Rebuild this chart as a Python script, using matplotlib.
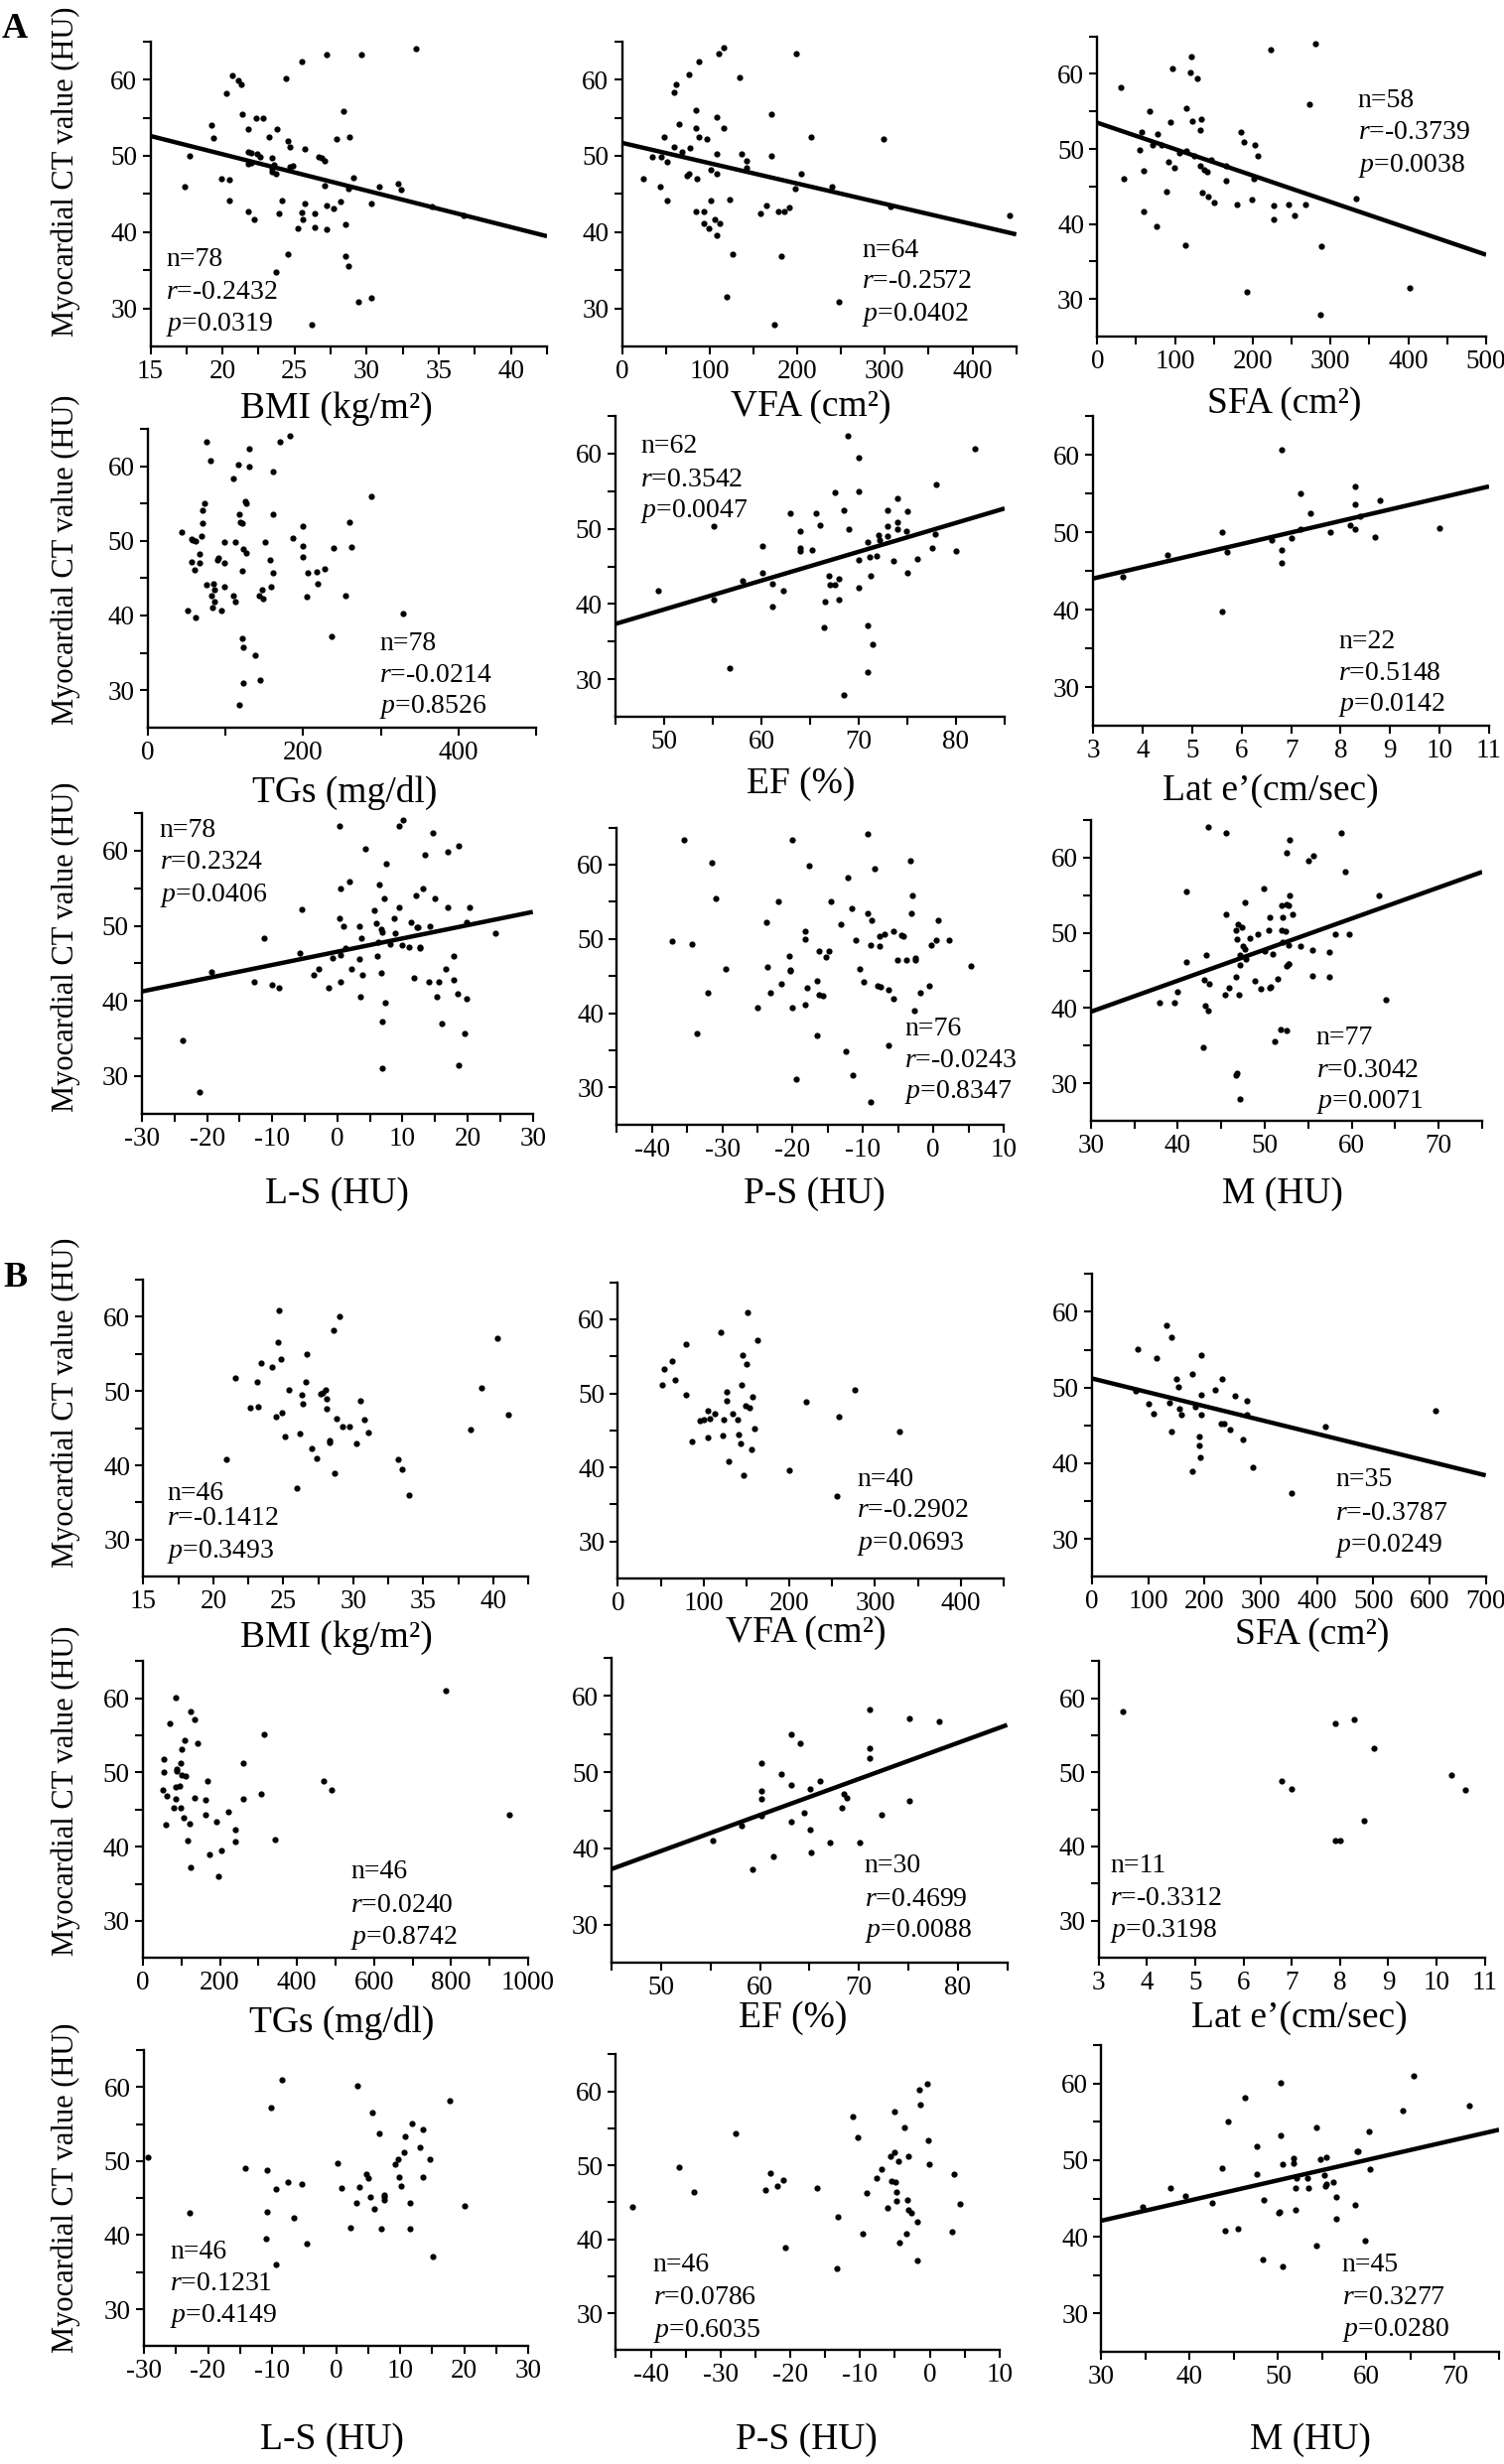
import matplotlib
matplotlib.use("Agg")
import matplotlib.pyplot as plt
import numpy as np

plt.rcParams['font.family'] = ['Liberation Serif', 'DejaVu Serif']
plt.rcParams['mathtext.fontset'] = 'custom'
plt.rcParams['mathtext.rm'] = 'Liberation Serif'
plt.rcParams['mathtext.it'] = 'Liberation Serif:italic'

# ---------------- data (x, Myocardial CT value) ----------------
a_bmi = [(17.4,46.0),(17.7,50.0),(19.2,54.0),(19.4,52.3),(19.9,47.0),(20.3,58.2),(20.5,46.9),(20.5,44.1),(20.7,60.6),(21.1,59.9),(21.3,59.3),(21.4,55.4),(21.8,53.5),(21.8,50.5),(21.8,48.9),(21.8,42.7),(22.0,50.4),(22.2,41.6),(22.3,54.9),(22.4,50.3),(22.6,49.8),(22.8,54.9),(23.2,52.4),(23.4,49.7),(23.4,48.3),(23.6,48.8),(23.7,34.7),(23.8,53.5),(23.7,47.6),(23.9,42.4),(24.1,44.1),(24.4,60.2),(24.5,52.0),(24.5,37.1),(24.7,51.1),(24.7,48.6),(24.9,48.7),(25.2,40.5),(25.5,62.4),(25.5,42.6),(25.6,41.6),(25.7,50.9),(25.7,43.7),(26.4,42.5),(26.4,40.6),(26.7,49.9),(26.9,49.7),(27.1,46.1),(27.1,49.3),(27.2,63.3),(27.2,43.5),(27.2,40.3),(27.7,43.1),(27.9,52.2),(28.2,44.0),(28.4,55.9),(28.5,36.9),(28.5,41.0),(28.7,35.5),(28.7,45.7),(28.8,52.4),(29.1,47.1),(29.6,63.3),(29.4,30.9),(30.3,43.8),(30.3,31.4),(30.9,45.9),(32.2,46.3),(32.4,45.6),(33.4,64.1),(34.5,43.4),(36.7,42.2),(26.2,27.9),(23.4,47.9),(22.0,49.1)]
a_vfa = [(24,47.0),(35,49.8),(44,46.0),(48,52.4),(45,49.8),(52,49.2),(52,44.1),(60,58.3),(62,59.4),(60,51.1),(65,54.1),(68,50.5),(77,60.7),(78,51.0),(74,47.4),(76,47.7),(84,56.0),(84,53.6),(88,62.4),(86,47.0),(84,42.7),(88,52.4),(97,52.2),(94,42.7),(99,40.5),(94,41.2),(101,48.2),(101,44.1),(106,41.6),(108,55.1),(108,50.3),(108,47.6),(108,39.6),(110,63.4),(112,41.1),(116,53.6),(116,64.2),(119,31.5),(123,44.3),(126,37.1),(134,60.3),(137,50.3),(142,49.4),(142,48.4),(158,42.4),(165,43.5),(171,55.4),(170,50.0),(174,27.8),(178,42.7),(182,36.9),(185,42.7),(191,43.2),(198,45.7),(199,63.4),(204,47.7),(216,52.5),(240,45.9),(247,30.9),(299,52.2),(307,43.4),(442,42.2)]
a_sfa = [(30,58.2),(34,46.0),(55,49.9),(57,52.3),(60,47.1),(60,41.7),(67,55.0),(71,50.5),(77,52.0),(76,39.7),(83,50.5),(89,44.3),(94,53.6),(92,48.3),(96,60.7),(99,47.5),(105,49.5),(113,37.2),(115,49.8),(115,55.4),(120,60.2),(121,62.3),(122,53.7),(125,49.1),(128,59.4),(132,52.5),(133,47.8),(134,54.0),(135,44.2),(137,47.2),(141,47.0),(143,43.7),(146,48.5),(150,42.8),(165,45.8),(165,47.7),(179,42.6),(185,52.2),(188,50.9),(192,31.0),(199,43.2),(201,46.0),(203,50.5),(206,49.1),(223,63.3),(227,40.6),(227,42.5),(246,42.6),(254,41.1),(268,42.6),(273,55.9),(280,64.1),(288,37.0),(287,27.9),(333,43.4),(402,31.5)]
a_tg = [(43,51.1),(51,40.7),(56,50.3),(57,50.1),(56,47.2),(60,46.1),(61,39.7),(61,50.0),(66,48.3),(67,47.1),(69,50.7),(70,54.1),(70,52.3),(73,55.0),(75,63.3),(76,44.1),(80,60.7),(82,42.6),(83,41.1),(84,44.2),(86,43.4),(86,41.8),(90,47.5),(91,47.7),(94,40.6),(99,47.0),(99,49.9),(99,43.9),(110,42.7),(110,58.3),(112,49.8),(113,41.8),(116,60.2),(118,53.5),(119,52.5),(121,36.9),(121,46.0),(122,52.3),(123,35.7),(123,48.9),(118,28.0),(123,31.0),(125,55.3),(126,55.0),(127,48.4),(131,62.3),(131,60.0),(138,34.7),(143,42.7),(145,31.4),(147,43.5),(148,42.2),(151,49.9),(157,47.4),(159,43.8),(161,53.5),(161,45.7),(161,59.3),(170,63.3),(183,64.1),(187,50.4),(199,52.0),(199,49.3),(199,47.8),(204,42.5),(206,45.7),(217,45.9),(219,44.2),(228,46.3),(237,37.2),(239,49.0),(255,42.6),(259,52.5),(262,49.2),(288,55.9),(329,40.3)]
a_ef = [(49.4,41.7),(55.1,50.4),(55.1,40.6),(56.7,31.5),(58.1,43.1),(60.1,47.7),(60.1,44.2),(61.1,42.7),(61.1,39.6),(62.2,41.7),(63.0,52.0),(64.0,49.7),(64.0,47.5),(64.0,47.1),(65.2,47.2),(65.6,52.1),(66.0,50.5),(66.4,36.9),(66.5,40.3),(66.9,43.7),(67.0,42.6),(67.5,42.6),(67.5,54.9),(68.0,43.4),(68.0,40.6),(68.5,52.4),(68.5,27.9),(69.0,50.0),(70.0,45.9),(70.0,42.2),(70.0,55.0),(70.0,59.4),(68.9,62.3),(70.9,48.2),(70.9,37.1),(70.9,31.0),(71.1,46.2),(71.2,43.7),(71.4,34.7),(71.8,46.4),(72.0,49.2),(72.1,48.5),(73.0,50.4),(73.0,49.0),(73.0,52.4),(73.6,45.7),(74.0,50.9),(74.0,49.9),(74.0,54.0),(74.9,49.7),(75.0,52.3),(75.0,44.2),(76.0,46.0),(77.5,47.4),(77.9,49.3),(78.0,55.9),(80.0,47.1),(81.9,60.7)]
a_late = [(3.6,44.2),(4.5,47.0),(5.6,50.0),(5.6,39.7),(5.7,47.5),(6.6,49.0),(6.8,47.7),(6.8,46.0),(6.8,60.7),(7.0,49.2),(7.2,55.0),(7.2,50.4),(7.4,52.5),(7.8,50.0),(8.2,50.9),(8.3,55.9),(8.3,53.6),(8.3,50.4),(8.4,52.1),(8.7,49.4),(8.8,54.1),(10.0,50.5)]
a_ls = [(-23.7,34.8),(-21.2,27.9),(-19.4,43.9),(-12.8,42.5),(-11.3,48.4),(-10.0,42.2),(-8.9,41.7),(-5.7,46.4),(-5.4,52.2),(-3.7,43.4),(-2.8,44.3),(-1.4,41.7),(-0.8,45.7),(0.3,63.3),(0.4,51.0),(0.5,55.0),(0.5,46.1),(0.5,42.6),(0.9,49.9),(1.2,47.0),(2.2,44.2),(1.9,55.9),(3.3,45.6),(3.3,49.9),(3.6,40.6),(3.7,48.3),(3.8,43.5),(4.3,60.2),(5.7,52.1),(5.9,50.3),(6.1,46.0),(6.2,47.8),(6.4,55.5),(6.8,49.5),(6.9,49.2),(6.8,43.7),(6.9,37.2),(6.9,31.0),(7.2,53.6),(7.3,39.7),(7.5,58.2),(8.1,47.6),(8.7,51.0),(8.9,49.0),(9.4,52.5),(9.5,63.3),(10.1,64.1),(10.0,47.4),(11.0,47.2),(11.3,50.4),(11.8,43.1),(12.1,54.0),(12.2,49.8),(12.4,49.8),(12.7,47.2),(12.7,47.0),(13.1,55.0),(13.4,59.4),(14.0,42.6),(14.2,49.9),(14.6,62.3),(14.9,53.6),(15.3,40.6),(15.5,42.6),(16.1,37.0),(16.6,44.2),(16.9,52.5),(17.0,59.9),(17.9,46.0),(17.9,42.8),(18.5,41.0),(18.6,31.5),(18.6,60.6),(19.6,35.6),(19.8,50.5),(19.9,40.3),(20.3,52.4),(24.2,49.0)]
a_ps = [(-37.2,49.7),(-35.4,63.3),(-34.3,49.3),(-33.6,37.2),(-32.0,42.7),(-31.5,60.2),(-30.9,55.5),(-29.5,46.0),(-25.0,40.7),(-23.7,52.2),(-23.6,46.2),(-23.2,42.7),(-22.0,55.0),(-21.6,43.9),(-20.5,47.7),(-20.4,45.7),(-20.4,45.8),(-20.1,40.7),(-20.0,63.3),(-19.5,31.1),(-18.3,51.1),(-18.3,50.0),(-18.2,41.1),(-18.0,43.4),(-17.7,59.8),(-16.6,37.0),(-16.5,44.3),(-16.3,48.3),(-16.2,42.5),(-15.7,42.3),(-15.2,47.5),(-14.8,48.4),(-14.5,55.0),(-13.1,52.0),(-12.5,34.8),(-12.1,58.2),(-11.6,54.1),(-11.4,31.6),(-11.0,49.9),(-10.5,46.0),(-9.9,44.2),(-9.4,53.5),(-9.4,64.1),(-8.9,49.2),(-8.8,52.5),(-8.4,59.4),(-7.9,43.7),(-7.7,49.0),(-7.6,50.4),(-7.5,43.5),(-7.0,50.7),(-6.4,43.2),(-6.4,35.7),(-5.7,51.0),(-5.7,41.9),(-5.1,47.1),(-4.6,50.5),(-4.2,50.4),(-3.9,47.2),(-3.1,53.5),(-3.2,60.6),(-3.0,55.9),(-2.7,40.3),(-2.5,47.4),(-2.5,47.1),(-1.9,42.7),(-0.6,43.7),(-0.3,49.1),(0.4,49.8),(0.7,52.5),(2.2,49.8),(5.3,46.3),(-8.9,28.0)]
a_m = [(37.9,40.7),(39.6,40.7),(40.0,42.2),(41.0,46.1),(41.0,55.5),(42.9,34.8),(43.0,43.8),(43.2,40.3),(43.3,47.0),(43.5,39.7),(43.5,64.1),(43.6,43.2),(45.4,41.8),(45.5,63.3),(45.6,52.5),(45.9,42.7),(46.7,50.3),(46.7,44.2),(46.7,31.1),(46.8,49.1),(46.9,51.1),(47.0,41.8),(47.1,47.1),(47.2,45.7),(47.2,27.9),(47.4,50.7),(47.5,48.2),(47.7,54.1),(47.7,47.8),(47.8,46.5),(48.3,49.3),(48.9,43.6),(49.2,49.8),(49.6,42.6),(49.9,55.9),(50.0,47.6),(50.5,50.4),(50.6,52.1),(50.6,42.7),(50.7,42.8),(50.9,47.2),(51.2,35.6),(51.5,43.9),(51.8,37.2),(51.9,53.6),(52.0,50.3),(52.1,52.1),(52.1,48.8),(52.4,50.2),(52.5,60.7),(52.5,37.0),(52.5,45.6),(52.5,53.8),(52.7,48.4),(52.8,45.8),(52.9,62.3),(52.9,55.0),(52.8,53.6),(53.2,52.5),(54.1,48.3),(55.0,59.6),(55.5,47.7),(55.6,60.2),(55.5,44.3),(57.4,47.4),(57.4,44.2),(58.1,49.8),(58.8,63.3),(59.2,58.2),(59.7,49.8),(63.1,55.0),(63.9,41.1),(46.8,31.4),(52.8,45.9)]

b_bmi = [(20.9,40.8),(21.6,51.8),(22.6,47.7),(23.1,51.2),(23.2,47.9),(23.4,53.8),(24.2,53.2),(24.5,46.5),(24.6,56.6),(24.7,60.9),(24.8,54.3),(24.9,47.1),(25.1,43.9),(25.4,50.1),(26.0,37.0),(26.2,44.3),(26.3,49.5),(26.4,48.3),(26.6,51.2),(26.7,55.0),(27.0,42.3),(27.4,40.9),(27.7,49.6),(28.0,50.2),(28.1,49.0),(28.1,47.6),(28.3,43.4),(28.3,43.1),(28.6,58.2),(28.7,38.9),(28.8,46.3),(29.0,60.1),(29.2,45.2),(29.7,45.2),(30.2,43.0),(30.5,48.7),(30.8,46.2),(31.1,44.4),(33.2,40.8),(33.5,39.5),(34.0,36.0),(38.4,44.8),(39.2,50.4),(40.3,57.1),(41.1,46.8),(27.8,49.8)]
b_vfa = [(52,51.2),(54,53.3),(63,54.3),(67,51.8),(80,56.6),(79,49.8),(86,43.5),(96,46.3),(100,46.4),(105,47.7),(105,44.0),(107,46.6),(113,47.2),(120,58.2),(122,44.3),(123,46.5),(127,49.0),(127,50.2),(129,40.8),(134,47.2),(140,46.5),(141,44.4),(143,43.2),(144,51.2),(146,55.2),(147,38.9),(149,48.3),(150,53.9),(151,61.0),(154,48.0),(156,42.4),(157,49.5),(159,45.3),(163,57.2),(200,39.6),(219,48.9),(255,36.1),(258,46.9),(276,50.5),(328,44.8)]
b_sfa = [(78,49.5),(81,55.1),(101,47.8),(110,46.6),(115,53.9),(138,48.0),(141,44.2),(141,56.7),(133,58.2),(150,51.2),(154,50.1),(156,47.2),(159,46.4),(178,51.8),(183,47.5),(190,43.5),(191,42.4),(192,40.8),(194,49.0),(195,46.4),(195,54.3),(178,38.9),(219,49.7),(229,45.3),(232,51.2),(234,45.3),(246,44.5),(255,48.9),(269,43.1),(275,48.3),(275,46.4),(286,39.5),(354,36.0),(414,44.8),(611,46.9)]
b_tg = [(51,47.7),(55,50.1),(55,51.8),(59,43.0),(63,46.8),(70,56.6),(79,45.2),(84,60.1),(84,46.4),(84,48.0),(87,50.2),(89,50.4),(96,48.2),(97,51.2),(97,45.2),(101,53.2),(102,49.7),(106,43.9),(108,54.3),(112,49.5),(116,40.8),(122,43.1),(124,58.2),(124,37.2),(133,57.1),(134,46.6),(142,53.9),(162,44.3),(162,46.3),(167,48.9),(173,38.9),(192,43.4),(205,39.5),(196,36.0),(221,44.7),(239,42.3),(240,40.7),(260,51.2),(261,46.4),(307,47.1),(315,55.1),(344,41.0),(468,48.8),(489,47.6),(787,61.0),(951,44.3)]
b_ef = [(55.2,41.0),(58.1,43.0),(59.2,37.2),(60.1,51.2),(60.1,47.6),(60.1,46.5),(60.1,44.3),(61.3,38.9),(62.1,49.7),(63.2,55.0),(63.2,48.3),(63.2,43.5),(64.1,53.8),(64.5,44.7),(65.1,42.4),(65.1,47.8),(65.2,39.5),(66.1,48.9),(67.1,40.8),(68.3,45.3),(68.5,47.2),(68.8,46.6),(70.1,40.8),(71.1,58.2),(71.1,53.2),(71.1,51.8),(72.3,44.4),(75.1,57.1),(75.1,46.3),(78.1,56.6)]
b_late = [(3.5,58.2),(6.8,48.9),(7.0,47.7),(7.9,56.6),(7.9,40.8),(8.0,40.8),(8.3,57.1),(8.5,43.5),(8.7,53.2),(10.3,49.7),(10.6,47.6)]
b_ls = [(-29.4,50.5),(-22.9,43.0),(-14.2,49.0),(-11.0,39.5),(-10.8,48.8),(-10.8,43.1),(-10.2,57.2),(-9.4,36.0),(-9.4,46.2),(-8.4,61.0),(-7.5,47.1),(-6.6,42.3),(-5.3,46.9),(-4.5,38.9),(0.3,49.7),(0.8,46.4),(2.3,41.0),(3.2,44.3),(3.4,60.2),(3.7,46.5),(4.7,48.3),(5.0,47.7),(5.3,45.2),(5.6,56.6),(6.0,43.5),(6.8,53.8),(7.0,40.8),(7.5,45.2),(7.5,44.8),(9.3,49.6),(9.7,50.2),(9.8,47.9),(10.2,46.6),(10.6,51.2),(10.7,53.3),(11.5,44.3),(11.6,40.8),(11.9,55.1),(13.1,51.8),(13.6,54.3),(13.6,47.8),(14.6,50.2),(15.1,37.1),(17.7,58.2),(20.0,43.9),(7.5,45.4)]
b_ps = [(-42.6,44.4),(-35.9,49.7),(-33.8,46.4),(-27.9,54.3),(-23.5,46.6),(-22.9,49.0),(-21.8,47.2),(-21.0,48.0),(-20.7,38.9),(-16.2,46.9),(-13.2,43.0),(-13.3,36.1),(-11.0,56.6),(-10.3,53.8),(-9.6,40.8),(-9.0,46.3),(-7.6,48.2),(-6.9,49.5),(-6.1,44.3),(-5.7,51.2),(-5.5,47.8),(-5.1,57.2),(-5.0,51.8),(-4.9,47.7),(-4.8,46.4),(-4.8,45.2),(-4.5,50.5),(-4.3,39.5),(-3.7,55.1),(-3.3,40.8),(-3.2,45.3),(-3.1,51.2),(-3.1,44.0),(-2.7,43.5),(-1.8,42.4),(-1.8,37.1),(-1.5,60.2),(-1.4,58.2),(-0.4,61.0),(-0.2,53.3),(-0.1,50.2),(3.2,41.0),(3.5,48.8),(4.4,44.8)]
b_m = [(34.7,43.9),(37.8,46.4),(39.5,45.3),(42.5,44.4),(43.7,49.0),(44.0,40.8),(44.3,55.0),(45.5,41.0),(46.2,58.1),(47.6,51.8),(47.6,48.2),(48.3,37.1),(48.4,44.8),(50.1,43.1),(50.2,43.2),(50.3,60.1),(50.3,53.2),(50.5,49.5),(50.5,36.1),(51.7,49.6),(51.8,50.2),(52.0,46.3),(52.0,43.5),(52.1,47.6),(53.3,47.7),(53.4,46.4),(54.3,54.3),(54.3,38.9),(54.8,50.1),(55.2,48.0),(55.3,46.6),(55.5,50.4),(55.4,46.9),(56.2,47.1),(56.6,45.2),(56.6,42.4),(58.7,44.2),(58.9,51.2),(59.0,51.2),(59.8,39.5),(60.3,53.7),(60.4,48.8),(64.1,56.5),(65.3,61.0),(71.6,57.1)]

# statistics printed on each panel: n, r, p
stats = {
    'a_bmi': ('78', '-0.2432', '0.0319'), 'a_vfa': ('64', '-0.2572', '0.0402'), 'a_sfa': ('58', '-0.3739', '0.0038'),
    'a_tg': ('78', '-0.0214', '0.8526'), 'a_ef': ('62', '0.3542', '0.0047'), 'a_late': ('22', '0.5148', '0.0142'),
    'a_ls': ('78', '0.2324', '0.0406'), 'a_ps': ('76', '-0.0243', '0.8347'), 'a_m': ('77', '0.3042', '0.0071'),
    'b_bmi': ('46', '-0.1412', '0.3493'), 'b_vfa': ('40', '-0.2902', '0.0693'), 'b_sfa': ('35', '-0.3787', '0.0249'),
    'b_tg': ('46', '0.0240', '0.8742'), 'b_ef': ('30', '0.4699', '0.0088'), 'b_late': ('11', '-0.3312', '0.3198'),
    'b_ls': ('46', '0.1231', '0.4149'), 'b_ps': ('46', '0.0786', '0.6035'), 'b_m': ('45', '0.3277', '0.0280'),
}
# regression lines: (intercept, slope)
fits = {
    'a_bmi': (59.77, -0.478), 'a_vfa': (51.7, -0.02667), 'a_sfa': (53.5, -0.0352),
    'a_ef': (20.08, 0.3838), 'a_late': (39.54, 1.4875), 'a_ls': (46.55, 0.1765),
    'a_m': (27.1, 0.4133), 'b_sfa': (51.2, -0.01829), 'b_ef': (16.04, 0.4725),
    'b_m': (34.19, 0.2636),
}
data = dict(a_bmi=a_bmi, a_vfa=a_vfa, a_sfa=a_sfa, a_tg=a_tg, a_ef=a_ef, a_late=a_late,
            a_ls=a_ls, a_ps=a_ps, a_m=a_m, b_bmi=b_bmi, b_vfa=b_vfa, b_sfa=b_sfa,
            b_tg=b_tg, b_ef=b_ef, b_late=b_late, b_ls=b_ls, b_ps=b_ps, b_m=b_m)

# ---------------- axis definitions ----------------
L_BMI = 'BMI (kg/m²)'; L_VFA = 'VFA (cm²)'; L_SFA = 'SFA (cm²)'
L_TG = 'TGs (mg/dl)'; L_EF = 'EF (%)'; L_LAT = 'Lat e’(cm/sec)'
L_LS = 'L-S (HU)'; L_PS = 'P-S (HU)'; L_M = 'M (HU)'

def rng(a, b, s):
    return list(np.arange(a, b + s / 2, s))

AX = {
    'bmi': ((15, 42.5), rng(15, 40, 5), rng(17.5, 42.5, 5)),
    'vfa': ((0, 450), rng(0, 400, 100), rng(50, 450, 100)),
    'sfa_a': ((0, 500), rng(0, 500, 100), rng(50, 450, 100)),
    'sfa_b': ((0, 700), rng(0, 700, 100), []),
    'tg_a': ((0, 500), rng(0, 400, 200), rng(100, 500, 200)),
    'tg_b': ((0, 1000), rng(0, 1000, 200), rng(100, 900, 200)),
    'ef': ((45, 85), rng(50, 80, 10), rng(45, 85, 10)),
    'lat': ((3, 11), rng(3, 11, 1), []),
    'ls': ((-30, 30), rng(-30, 30, 10), rng(-25, 25, 10)),
    'ps': ((-45, 10), rng(-40, 10, 10), rng(-45, 5, 10)),
    'm': ((30, 75), rng(30, 70, 10), rng(35, 75, 10)),
}

# key, xlabel, axis type, box (left, right, top, bottom px), text x frac, text y fracs, xlabel centre px
layout = [
    ('a_bmi', L_BMI, 'bmi', (151.5, 551, 41.7, 349), 0.040, (0.284, 0.178, 0.072), (339, 412)),
    ('a_vfa', L_VFA, 'vfa', (626.5, 1023.7, 41.7, 349), 0.608, (0.315, 0.214, 0.105), (817, 410)),
    ('a_sfa', L_SFA, 'sfa_a', (1105.3, 1497, 36.7, 339), 0.670, (0.785, 0.680, 0.570), (1294, 407)),
    ('a_tg', L_TG, 'tg_a', (149, 540, 432, 732.7), 0.597, (0.280, 0.175, 0.070), (347, 798)),
    ('a_ef', L_EF, 'ef', (620, 1012, 419, 722), 0.065, (0.898, 0.788, 0.683), (807, 790)),
    ('a_late', L_LAT, 'lat', (1101, 1500, 419, 731), 0.619, (0.270, 0.169, 0.067), (1280, 797)),
    ('a_ls', L_LS, 'ls', (143, 536.7, 819, 1121.7), 0.045, (0.942, 0.837, 0.727), (339, 1203)),
    ('a_ps', L_PS, 'ps', (621.4, 1011, 833.6, 1132.7), 0.744, (0.323, 0.215, 0.109), (820, 1203)),
    ('a_m', L_M, 'm', (1098.7, 1493, 826, 1129), 0.576, (0.274, 0.167, 0.063), (1292, 1203)),
    ('b_bmi', L_BMI, 'bmi', (144.4, 532, 1289, 1588.3), 0.062, (0.279, 0.195, 0.086), (339, 1650)),
    ('b_vfa', L_VFA, 'vfa', (622.4, 1011, 1291.7, 1590), 0.619, (0.335, 0.229, 0.117), (812, 1645)),
    ('b_sfa', L_SFA, 'sfa_b', (1100, 1496.6, 1283.3, 1588.3), 0.618, (0.322, 0.208, 0.104), (1322, 1647)),
    ('b_tg', L_TG, 'tg_b', (143.9, 532, 1673.3, 1972.3), 0.540, (0.289, 0.177, 0.069), (344, 2037)),
    ('b_ef', L_EF, 'ef', (616.3, 1014.5, 1670, 1977), 0.639, (0.316, 0.208, 0.104), (799, 2033)),
    ('b_late', L_LAT, 'lat', (1106.8, 1495.6, 1673.3, 1972), 0.029, (0.310, 0.198, 0.090), (1309, 2033)),
    ('b_ls', L_LS, 'ls', (145, 532, 2065, 2363.3), 0.067, (0.318, 0.210, 0.101), (334, 2458)),
    ('b_ps', L_PS, 'ps', (620.4, 1006.8, 2069.3, 2367.3), 0.097, (0.287, 0.176, 0.064), (812, 2458)),
    ('b_m', L_M, 'm', (1109.4, 1510, 2060, 2369), 0.605, (0.283, 0.175, 0.072), (1320, 2458)),
]
ylabel_centres = {'a_bmi': 173, 'a_tg': 564, 'a_ls': 954, 'b_bmi': 1413, 'b_tg': 1804, 'b_ls': 2204}

W, H = 1515, 2482
fig = plt.figure(figsize=(W / 100, H / 100), dpi=100)
fig.patch.set_facecolor('white')

TICK_FS = 19.5
TXT_FS = 20
XL_FS = 27
YL_FS = 22

for key, xl, axtype, (l, r, t, b), tx, tys, (xlx, xly) in layout:
    ax = fig.add_axes([l / W, 1 - b / H, (r - l) / W, (b - t) / H])
    xlim, xmaj, xmin = AX[axtype]
    pts = np.array(data[key], dtype=float)
    ax.scatter(pts[:, 0], pts[:, 1], s=20, c='black', linewidths=0, zorder=3, clip_on=False)
    if key in fits:
        c0, c1 = fits[key]
        xs = np.array(xlim, dtype=float)
        ax.plot(xs, c0 + c1 * xs, color='black', lw=3.2, solid_capstyle='butt', zorder=2)
    ax.set_xlim(*xlim)
    ax.set_ylim(25, 65)
    ax.set_xticks(xmaj)
    ax.set_xticklabels([f'{v:g}' for v in xmaj])
    ax.set_xticks(xmin, minor=True)
    ax.set_yticks([30, 40, 50, 60])
    ax.set_yticklabels(['30', '40', '50', '60'])
    ax.set_yticks([35, 45, 55, 65], minor=True)
    for s in ('top', 'right'):
        ax.spines[s].set_visible(False)
    for s in ('left', 'bottom'):
        ax.spines[s].set_linewidth(1.7)
    ax.tick_params(axis='both', which='both', direction='out', length=5.5, width=1.5,
                   labelsize=TICK_FS, pad=4, colors='black')
    ax.set_facecolor('none')
    # statistics text
    n, rv, pv = stats[key]
    ax.text(tx, tys[0], f'n={n}', transform=ax.transAxes, fontsize=TXT_FS, ha='left', va='center')
    ax.text(tx, tys[1], r'$r$' + f'={rv}', transform=ax.transAxes, fontsize=TXT_FS, ha='left', va='center')
    ax.text(tx, tys[2], r'$p$' + f'={pv}', transform=ax.transAxes, fontsize=TXT_FS, ha='left', va='center')
    # x label
    ax.set_xlabel(xl, fontsize=XL_FS)
    ax.xaxis.label.set_va('center')
    ax.xaxis.set_label_coords(xlx / W, 1 - xly / H, transform=fig.transFigure)
    if key in ylabel_centres:
        ax.set_ylabel('Myocardial CT value (HU)', fontsize=YL_FS)
        ax.yaxis.label.set_va('center')
        ax.yaxis.set_label_coords(66 / W, 1 - ylabel_centres[key] / H, transform=fig.transFigure)

fig.text(15 / W, 1 - 30 / H, 'A', fontsize=26, fontweight='bold', ha='center', va='center')
fig.text(15 / W, 1 - 1287 / H, 'B', fontsize=26, fontweight='bold', ha='center', va='center')

fig.savefig('out.png', dpi=100, facecolor='white')
